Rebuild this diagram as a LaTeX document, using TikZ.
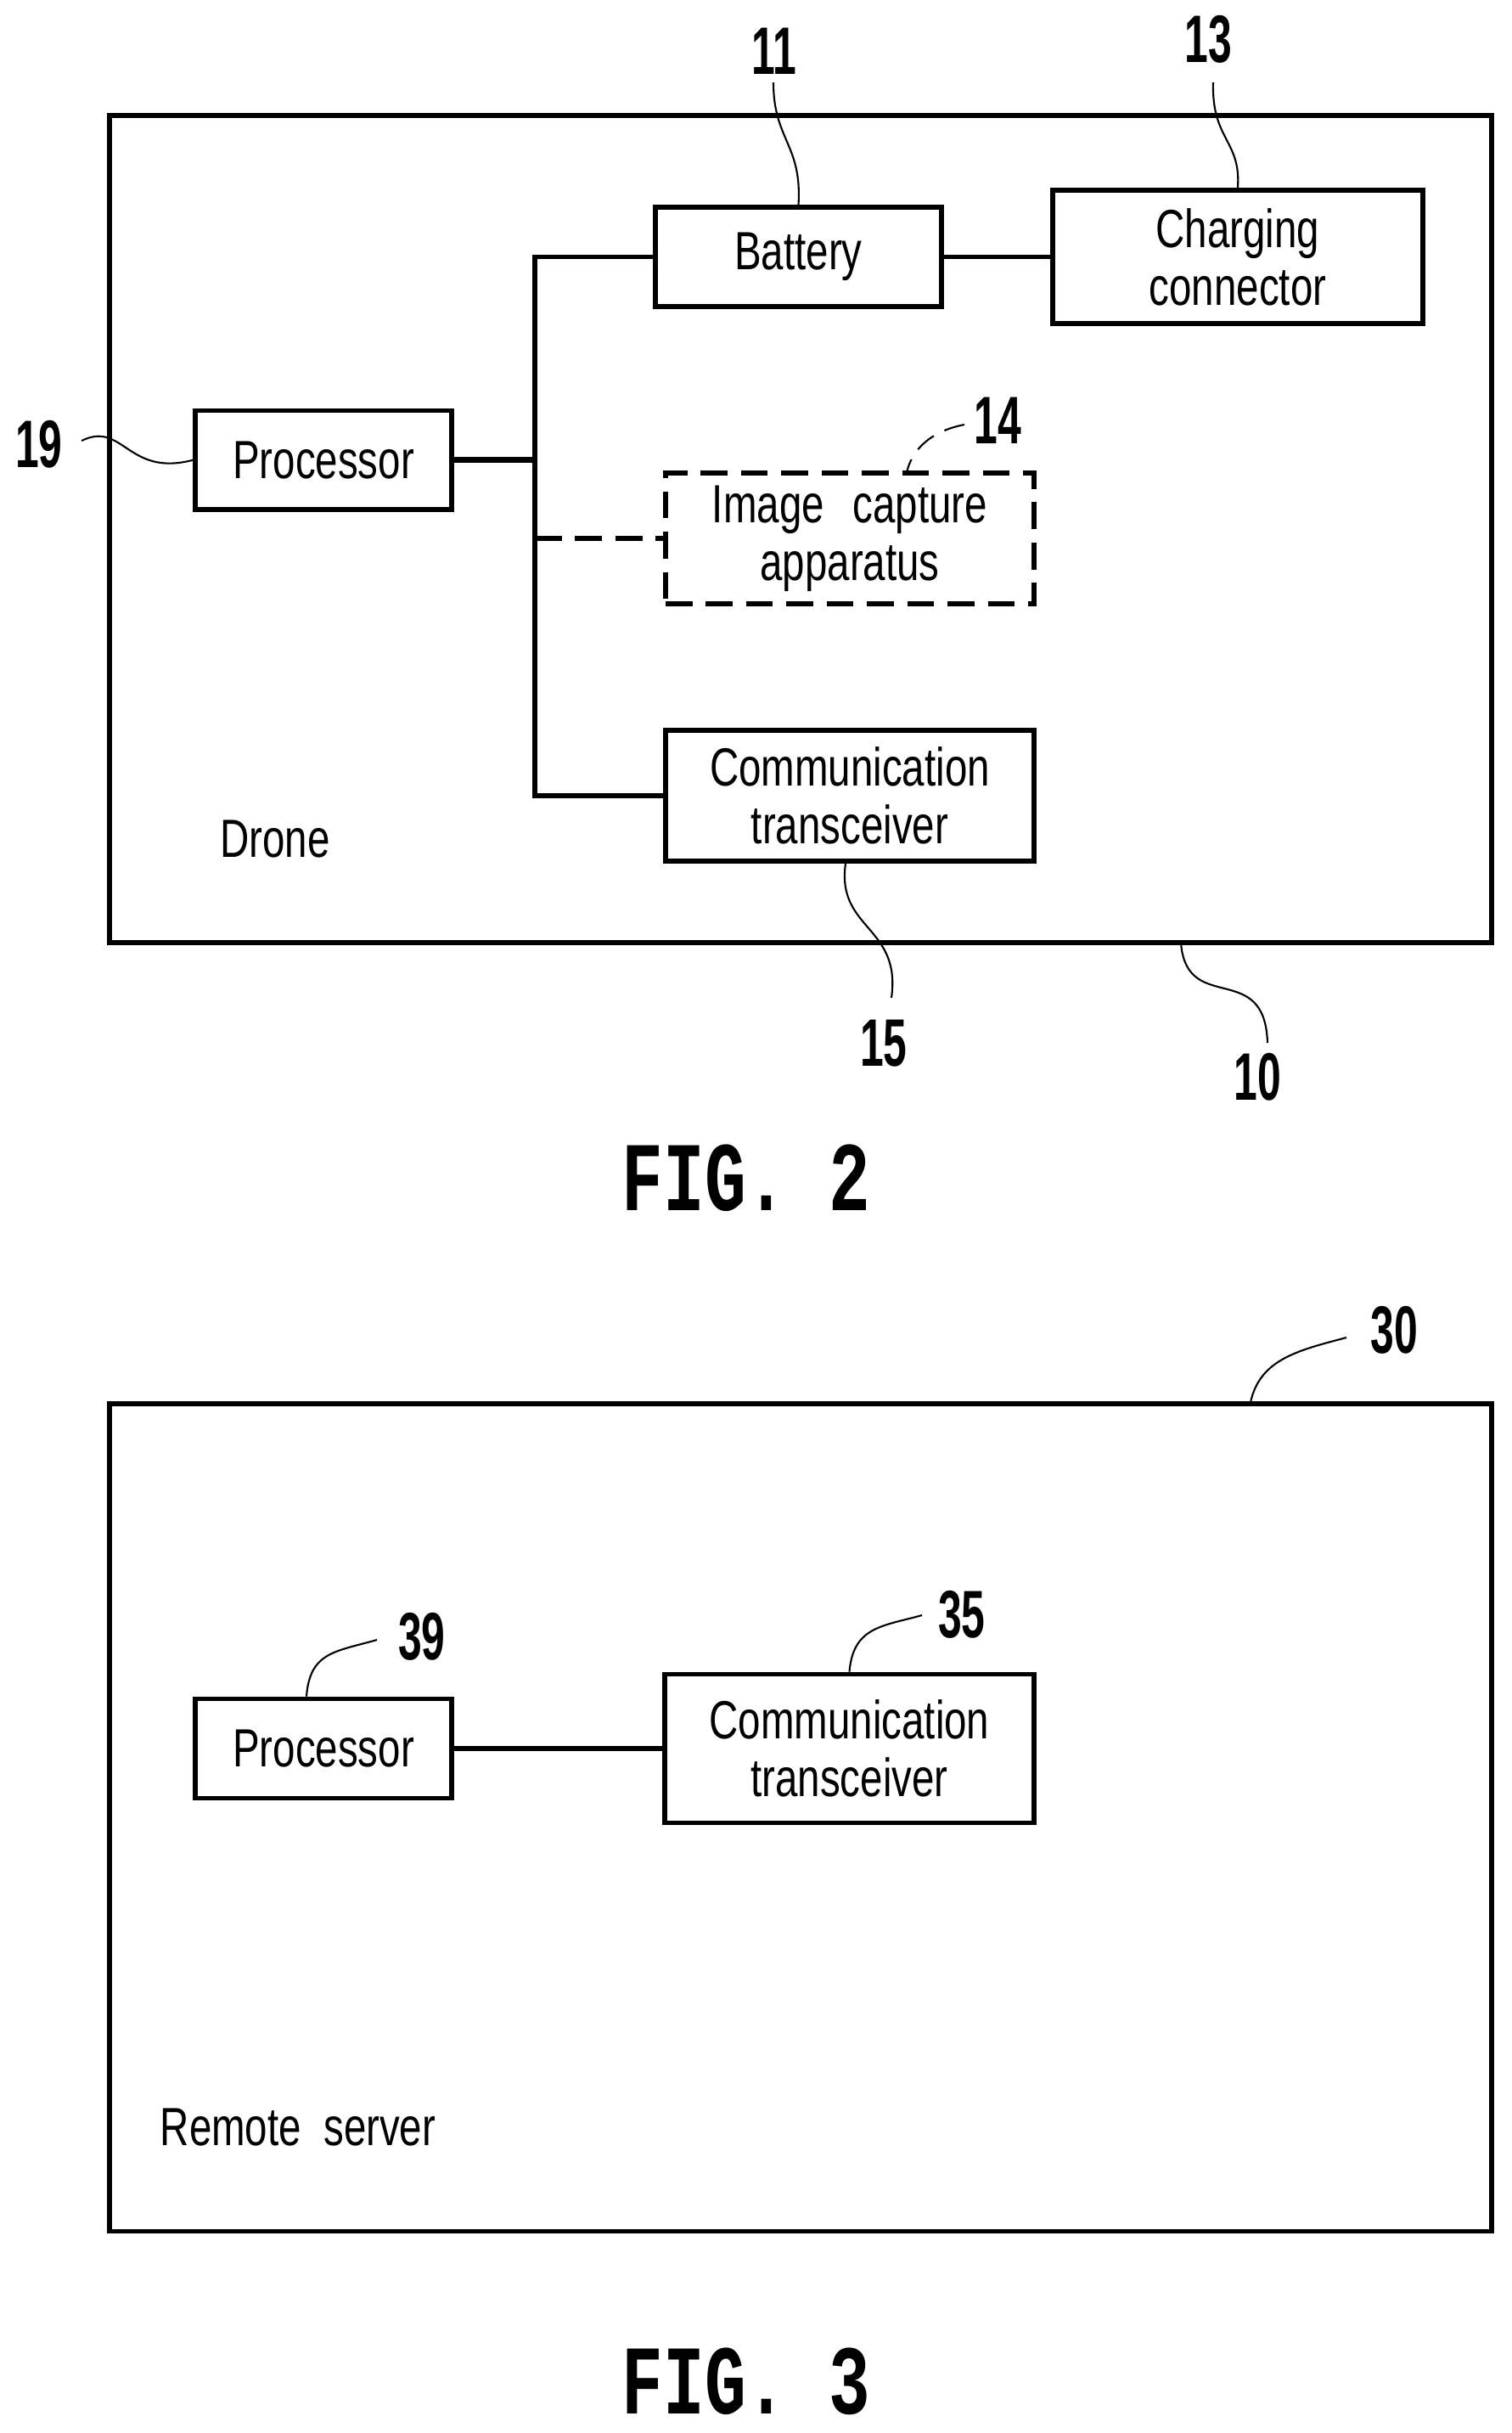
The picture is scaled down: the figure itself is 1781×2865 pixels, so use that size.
\documentclass[tikz,border=0pt]{standalone}
\usepackage{fontspec}
\newfontfamily\boxfont[FakeStretch=0.75]{Liberation Sans}
\newfontfamily\numfont[FakeStretch=0.63]{Liberation Sans Bold}
\newfontfamily\figfont[FakeStretch=0.7]{Liberation Mono Bold}
\begin{document}
\begin{tikzpicture}[x=0.01cm,y=-0.01cm,
    block/.style={draw,line width=1.6pt,inner sep=0pt,align=center,
        font=\boxfont\fontsize{18}{19.3}\selectfont},
    dashblock/.style={block,dash pattern=on 9pt off 4.5pt},
    frame/.style={draw,line width=1.6pt,inner sep=0pt,minimum width=16.27cm},
    wire/.style={line width=1.6pt},
    leader/.style={line width=0.6pt},
    plain/.style={font=\boxfont\fontsize{18}{19.3}\selectfont},
    refnum/.style={font=\numfont\fontsize{22.5}{24}\selectfont},
    figlabel/.style={font=\figfont\fontsize{33}{36}\selectfont}]
        \useasboundingbox (0,0) rectangle (1781,2865);

        % FIG. 2
        \node[frame,minimum height=9.74cm] (drone) at (943,623) {};
        \node[block,minimum width=3.02cm,minimum height=1.165cm] (procbox) at (381,541.75) {Processor};
        \node[block,minimum width=3.37cm,minimum height=1.17cm] (batbox) at (940.5,302.5) {Battery};
        \node[block,minimum width=4.36cm,minimum height=1.57cm,text width=4.3cm] (chargebox) at (1458,302.5) {Charging\\connector};
        \node[dashblock,minimum width=4.34cm,minimum height=1.54cm,text width=4.3cm] (imagebox) at (1001,634) {Image\hspace{9.6pt}capture\\apparatus};
        \node[block,minimum width=4.34cm,minimum height=1.54cm,text width=4.3cm] (combox) at (1001,937) {Communication\\transceiver};
        \node[plain] (dronetxt) at (324,988) {Drone};

        \coordinate (bustop) at (630,302.5);
        \coordinate (busmid) at (630,541.75);
        \coordinate (busimg) at (630,634);
        \coordinate (busbot) at (630,937);
        \draw[wire] (batbox.west) -- (bustop) -- (busbot) -- (combox.west);
        \draw[line width=1.9pt] (procbox.east) -- (busmid);
        \draw[wire,dash pattern=on 9pt off 4.5pt] (busimg) -- (imagebox.west);
        \draw[wire] (batbox.east) -- (chargebox.west);

        \node[refnum] (n11) at (912,60) {11};
        \node[refnum] (n13) at (1423,46) {13};
        \node[refnum] (n14) at (1175,495) {14};
        \node[refnum] (n19) at (46,523) {19};
        \node[refnum] (n15) at (1041,1229) {15};
        \node[refnum] (n10) at (1481,1268) {10};
        \coordinate (c11) at (911,97);
        \coordinate (c13) at (1429,97);
        \coordinate (c14) at (1136,500);
        \coordinate (c19) at (96,519);
        \coordinate (c15) at (1050,1175);
        \coordinate (c10) at (1493,1228);
        \draw[leader] (c11) .. controls (911,165) and (945,170) .. (batbox.north);
        \draw[leader] (c13) .. controls (1427,165) and (1462,165) .. (chargebox.north);
        \draw[leader,dash pattern=on 7pt off 4pt] (c14) .. controls (1095,508) and (1075,530) .. ([xshift=0.675cm]imagebox.north);
        \draw[leader] (c19) .. controls (145,495) and (150,562) .. (procbox.west);
        \draw[leader] (c15) .. controls (1062,1090) and (985,1095) .. ([xshift=-0.05cm]combox.south);
        \draw[leader] (c10) .. controls (1490,1130) and (1400,1195) .. ([xshift=4.48cm]drone.south);
        \node[figlabel] (fig2) at (879,1387) {FIG. 2};

        % FIG. 3
        \node[frame,minimum height=9.74cm] (server) at (943,2140) {};
        \node[block,minimum width=3.02cm,minimum height=1.17cm] (proctwo) at (381,2059) {Processor};
        \node[block,minimum width=4.35cm,minimum height=1.75cm,text width=4.3cm] (comtwo) at (1000.5,2059) {Communication\\transceiver};
        \node[plain] (servertxt) at (351,2505) {Remote\ \ server};
        \draw[wire] (proctwo.east) -- (comtwo.west);

        \node[refnum] (n30) at (1642,1566) {30};
        \node[refnum] (n39) at (497,1927) {39};
        \node[refnum] (n35) at (1133,1901) {35};
        \coordinate (c30) at (1586,1575);
        \coordinate (c39) at (444,1931);
        \coordinate (c35) at (1086,1902);
        \draw[leader] (c30) .. controls (1530,1590) and (1485,1600) .. ([xshift=5.3cm]server.north);
        \draw[leader] (c39) .. controls (395,1945) and (365,1945) .. ([xshift=-0.2cm]proctwo.north);
        \draw[leader] (c35) .. controls (1040,1915) and (1005,1915) .. (comtwo.north);
        \node[figlabel] (fig3) at (879,2804) {FIG. 3};
\end{tikzpicture}
\end{document}
